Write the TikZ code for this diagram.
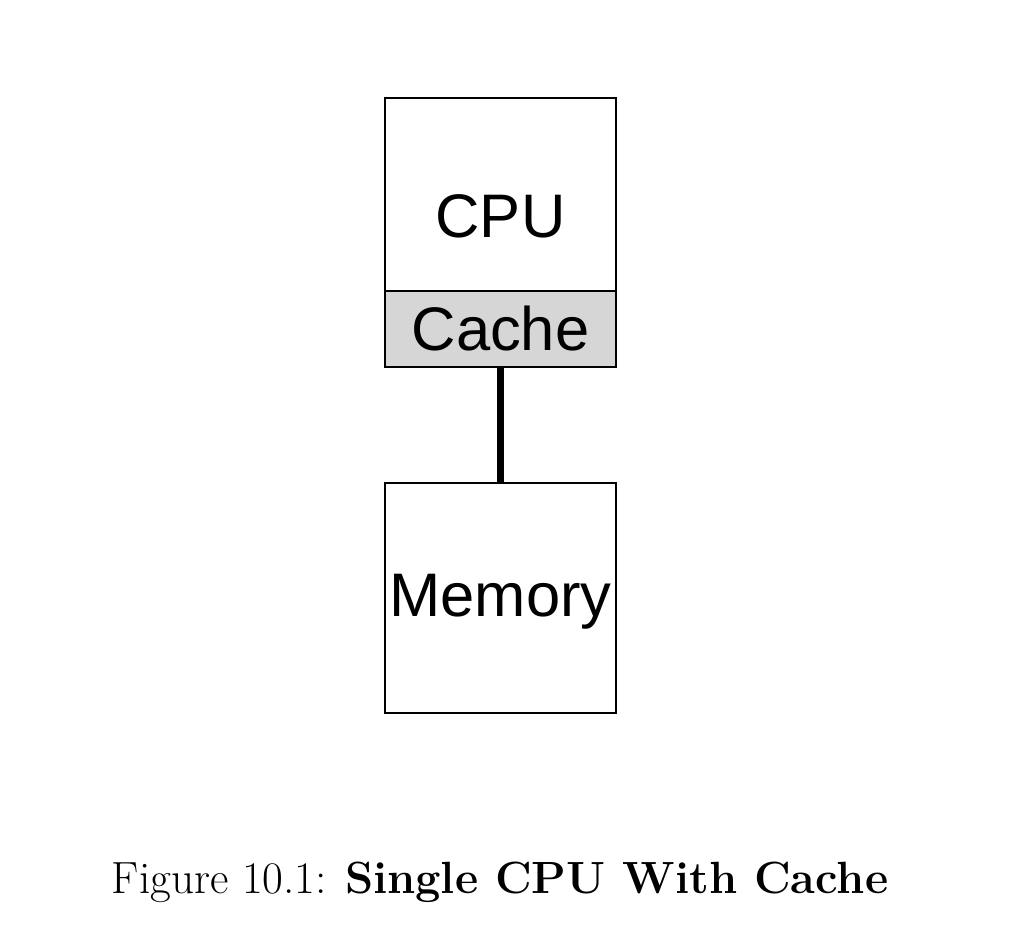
\documentclass[tikz,border=0pt]{standalone}
\usepackage{fontspec}
\setsansfont{Liberation Sans}
\usepackage{tikz}
\usetikzlibrary{positioning}
\definecolor{cachegray}{gray}{0.84}
\newcommand{\fUnit}{\fontsize{35}{42}\selectfont}
\newcommand{\fCap}{\fontsize{25.7}{30}\selectfont}

\begin{document}
\begin{tikzpicture}[x=0.02cm,y=-0.02cm,
  unit/.style={draw=black,line width=1.1pt,minimum width=4.62cm,inner sep=0pt,font=\fUnit\sffamily}]
  \useasboundingbox (0,0) rectangle (1025,949);
  \node[unit,minimum height=3.86cm,text height=1.74cm,text depth=0pt] (cpu) at (500.5,194.5) {CPU};
  \node[unit,fill=cachegray,minimum height=1.52cm,below=-1.1pt of cpu] (cache) {Cache};
  \node[unit,minimum height=4.6cm,text height=0.76cm,text depth=0pt] (mem) at (500.5,598) {Memory};
  \draw[line width=4.5pt] (cache.south) -- (mem.north);
  \node[font=\fCap,anchor=base] (cap) at (500,893) {Figure 10.1: \textbf{Single CPU With Cache}};
\end{tikzpicture}
\end{document}
